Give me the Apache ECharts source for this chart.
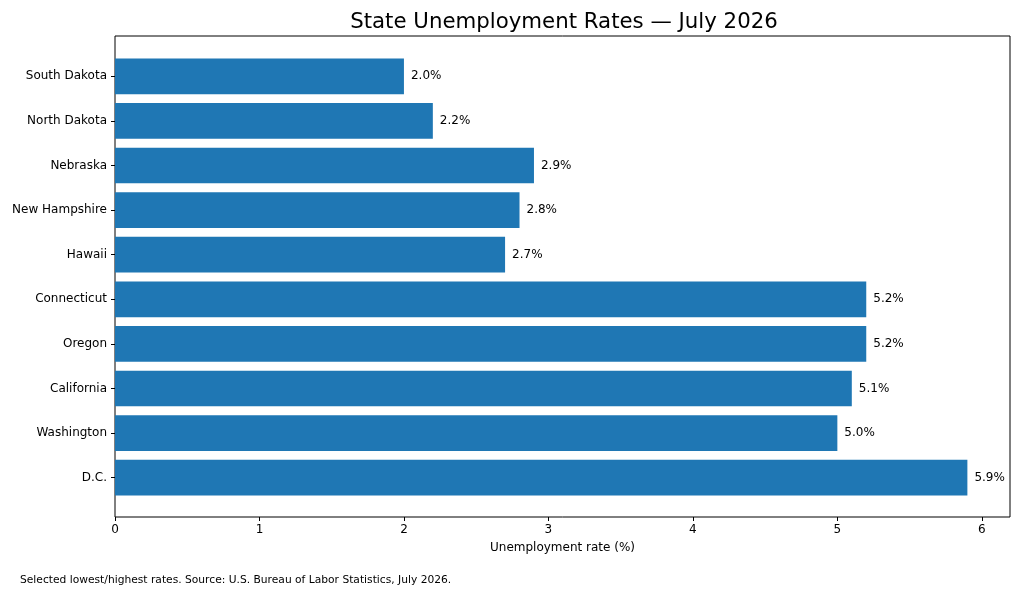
<!DOCTYPE html>
<html>
<head>
<meta charset="utf-8">
<script src="https://cdn.jsdelivr.net/npm/echarts@6/dist/echarts.min.js"></script>
<style>
  html, body { margin: 0; padding: 0; background: #fff; }
  #chart { width: 1024px; height: 597px; }
</style>
</head>
<body>
<div id="chart"></div>
<script>
const states = ['South Dakota', 'North Dakota', 'Nebraska', 'New Hampshire', 'Hawaii',
  'Connecticut', 'Oregon', 'California', 'Washington', 'D.C.'];
const rates = [2.0, 2.2, 2.9, 2.8, 2.7, 5.2, 5.2, 5.1, 5.0, 5.9];
const xTicks = [0, 1, 2, 3, 4, 5, 6];

const FONT = 'DejaVu Sans';
const xMax = 6.195;

const chart = echarts.init(document.getElementById('chart'), null, { renderer: 'canvas' });

// grid 0: the frame and x axis; grid 1: the bars (matplotlib style margins)
chart.setOption({
  animation: false,
  title: {
    text: 'State Unemployment Rates — July 2026',
    left: 559, top: 7, textAlign: 'center',
    textStyle: { fontFamily: FONT, fontSize: 21.3, fontWeight: 'normal', color: '#000' }
  },
  graphic: [{
    type: 'text', left: 20, top: 575,
    style: {
      text: 'Selected lowest/highest rates. Source: U.S. Bureau of Labor Statistics, July 2026.',
      fontFamily: FONT, fontSize: 10.7, fill: '#000'
    }
  }],
  grid: [
    { left: 115, right: 14, top: 36, bottom: 80, show: true, borderColor: '#000', borderWidth: 1, backgroundColor: 'transparent' },
    { left: 115, right: 14, top: 54, bottom: 97 }
  ],
  xAxis: [{
    gridIndex: 0, type: 'value', min: 0, max: xMax,
    name: 'Unemployment rate (%)', nameLocation: 'middle', nameGap: 25,
    nameTextStyle: { fontFamily: FONT, fontSize: 12, color: '#000' },
    axisLine: { show: false },
    axisTick: { show: true, length: 4, customValues: xTicks, lineStyle: { color: '#000' } },
    axisLabel: {
      fontFamily: FONT, fontSize: 12, color: '#000', margin: 7,
      customValues: xTicks
    },
    splitLine: { show: false }
  }, {
    gridIndex: 1, type: 'value', min: 0, max: xMax, show: false
  }],
  yAxis: [{
    gridIndex: 0, type: 'value', show: false
  }, {
    gridIndex: 1, type: 'category', data: states, inverse: true,
    axisLine: { show: false },
    axisTick: { show: true, alignWithLabel: true, length: 4, lineStyle: { color: '#000' } },
    axisLabel: { fontFamily: FONT, fontSize: 12, color: '#000', margin: 8 }
  }],
  series: [{
    type: 'bar', xAxisIndex: 1, yAxisIndex: 1,
    data: rates, barWidth: '80%',
    itemStyle: { color: '#1f77b4' },
    label: {
      show: true, position: 'right', distance: 7,
      fontFamily: FONT, fontSize: 12, color: '#000',
      formatter: p => p.value.toFixed(1) + '%'
    }
  }]
});
</script>
</body>
</html>
